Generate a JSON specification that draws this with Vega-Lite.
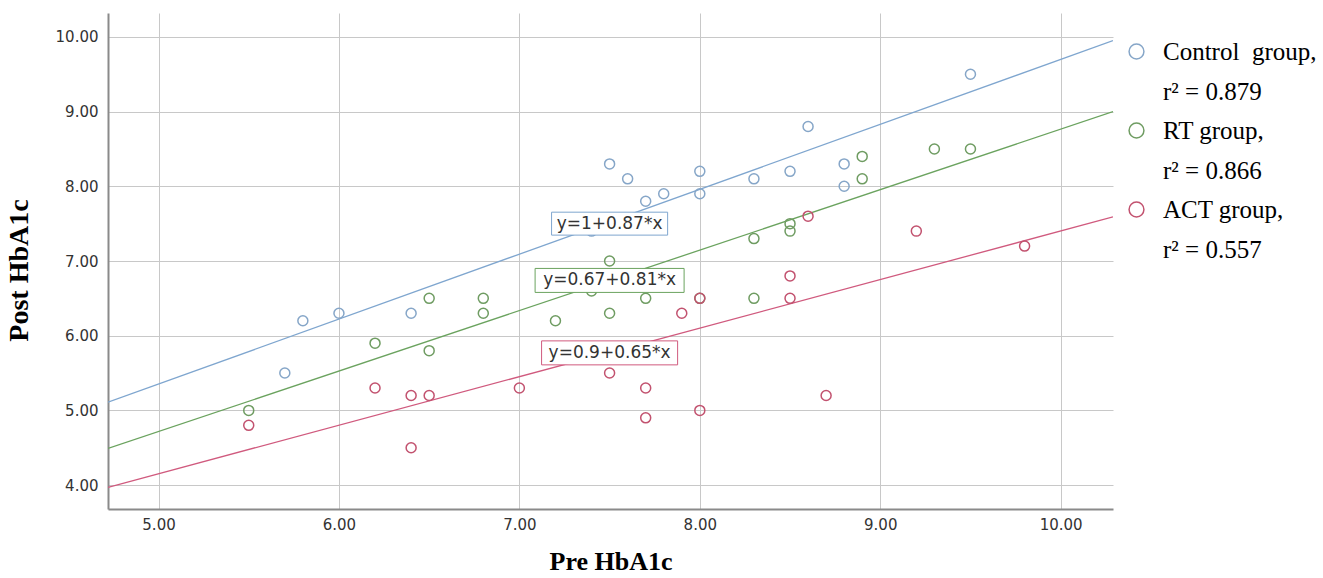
{
  "$schema": "https://vega.github.io/schema/vega-lite/v6.json",
  "width": 1005,
  "height": 496,
  "autosize": "none",
  "padding": {"left": 108, "top": 13, "right": 210, "bottom": 69},
  "background": "white",
  "config": {
    "view": {"stroke": null},
    "style": {"guide-label": {"lineHeight": 40}},
    "axis": {
      "grid": true,
      "gridColor": "#c8c8c8",
      "gridWidth": 1,
      "domainColor": "#8a8a8a",
      "domainWidth": 2,
      "ticks": false,
      "labelFont": "DejaVu Sans",
      "labelFontSize": 15,
      "labelColor": "#333333",
      "titleFont": "Liberation Serif",
      "titleFontWeight": "bold",
      "titleColor": "#000000"
    }
  },
  "datasets": {
    "pts": [
      {"group": "Control group", "pre": 5.7, "post": 5.5},
      {"group": "Control group", "pre": 5.8, "post": 6.2},
      {"group": "Control group", "pre": 6.0, "post": 6.3},
      {"group": "Control group", "pre": 6.4, "post": 6.3},
      {"group": "Control group", "pre": 7.4, "post": 7.4},
      {"group": "Control group", "pre": 7.5, "post": 8.3},
      {"group": "Control group", "pre": 7.6, "post": 8.1},
      {"group": "Control group", "pre": 7.7, "post": 7.8},
      {"group": "Control group", "pre": 7.8, "post": 7.9},
      {"group": "Control group", "pre": 8.0, "post": 8.2},
      {"group": "Control group", "pre": 8.0, "post": 7.9},
      {"group": "Control group", "pre": 8.3, "post": 8.1},
      {"group": "Control group", "pre": 8.5, "post": 8.2},
      {"group": "Control group", "pre": 8.6, "post": 8.8},
      {"group": "Control group", "pre": 8.8, "post": 8.3},
      {"group": "Control group", "pre": 8.8, "post": 8.0},
      {"group": "Control group", "pre": 9.5, "post": 9.5},
      {"group": "RT group", "pre": 5.5, "post": 5.0},
      {"group": "RT group", "pre": 6.2, "post": 5.9},
      {"group": "RT group", "pre": 6.5, "post": 6.5},
      {"group": "RT group", "pre": 6.5, "post": 5.8},
      {"group": "RT group", "pre": 6.8, "post": 6.5},
      {"group": "RT group", "pre": 6.8, "post": 6.3},
      {"group": "RT group", "pre": 7.2, "post": 6.2},
      {"group": "RT group", "pre": 7.4, "post": 6.6},
      {"group": "RT group", "pre": 7.5, "post": 7.0},
      {"group": "RT group", "pre": 7.5, "post": 6.3},
      {"group": "RT group", "pre": 7.7, "post": 6.5},
      {"group": "RT group", "pre": 8.0, "post": 6.5},
      {"group": "RT group", "pre": 8.3, "post": 6.5},
      {"group": "RT group", "pre": 8.3, "post": 7.3},
      {"group": "RT group", "pre": 8.5, "post": 7.5},
      {"group": "RT group", "pre": 8.5, "post": 7.4},
      {"group": "RT group", "pre": 8.9, "post": 8.4},
      {"group": "RT group", "pre": 8.9, "post": 8.1},
      {"group": "RT group", "pre": 9.3, "post": 8.5},
      {"group": "RT group", "pre": 9.5, "post": 8.5},
      {"group": "ACT group", "pre": 5.5, "post": 4.8},
      {"group": "ACT group", "pre": 6.2, "post": 5.3},
      {"group": "ACT group", "pre": 6.4, "post": 5.2},
      {"group": "ACT group", "pre": 6.5, "post": 5.2},
      {"group": "ACT group", "pre": 6.4, "post": 4.5},
      {"group": "ACT group", "pre": 7.0, "post": 5.3},
      {"group": "ACT group", "pre": 7.5, "post": 5.5},
      {"group": "ACT group", "pre": 7.7, "post": 5.3},
      {"group": "ACT group", "pre": 7.7, "post": 4.9},
      {"group": "ACT group", "pre": 7.9, "post": 6.3},
      {"group": "ACT group", "pre": 8.0, "post": 6.5},
      {"group": "ACT group", "pre": 8.0, "post": 5.0},
      {"group": "ACT group", "pre": 8.5, "post": 6.8},
      {"group": "ACT group", "pre": 8.5, "post": 6.5},
      {"group": "ACT group", "pre": 8.6, "post": 7.6},
      {"group": "ACT group", "pre": 8.7, "post": 5.2},
      {"group": "ACT group", "pre": 9.2, "post": 7.4},
      {"group": "ACT group", "pre": 9.8, "post": 7.2}
    ],
    "fits": [
      {"group": "Control group", "pre": 4.72, "post": 5.11},
      {"group": "Control group", "pre": 10.29, "post": 9.95},
      {"group": "RT group", "pre": 4.72, "post": 4.49},
      {"group": "RT group", "pre": 10.29, "post": 9.0},
      {"group": "ACT group", "pre": 4.72, "post": 3.97},
      {"group": "ACT group", "pre": 10.29, "post": 7.59}
    ],
    "eqs": [
      {"group": "Control group", "label": "y=1+0.87*x", "pre": 7.5, "post": 7.5},
      {"group": "RT group", "label": "y=0.67+0.81*x", "pre": 7.5, "post": 6.74},
      {"group": "ACT group", "label": "y=0.9+0.65*x", "pre": 7.5, "post": 5.77}
    ]
  },
  "layer": [
    {
      "data": {"name": "fits"},
      "mark": {"type": "line", "strokeWidth": 1.3, "clip": true},
      "encoding": {
        "x": {
          "field": "pre", "type": "quantitative",
          "scale": {"domain": [4.72, 10.29], "nice": false, "zero": false},
          "axis": {"values": [5, 6, 7, 8, 9, 10], "format": ".2f", "labelPadding": 8, "title": "Pre HbA1c", "titleFontSize": 26, "titlePadding": 16}
        },
        "y": {
          "field": "post", "type": "quantitative",
          "scale": {"domain": [3.68, 10.32], "nice": false, "zero": false},
          "axis": {"values": [4, 5, 6, 7, 8, 9, 10], "format": ".2f", "labelPadding": 10, "title": "Post HbA1c", "titleFontSize": 28, "titlePadding": 22, "titleY": 257}
        },
        "stroke": {
          "field": "group", "type": "nominal",
          "scale": {"range": ["#d05a7e", "#7fa6cf", "#6ba35f"]},
          "legend": null
        },
        "detail": {"field": "group"}
      }
    },
    {
      "data": {"name": "pts"},
      "mark": {"type": "point", "filled": false, "size": 100, "strokeWidth": 1.5, "opacity": 1},
      "encoding": {
        "x": {"field": "pre", "type": "quantitative"},
        "y": {"field": "post", "type": "quantitative"},
        "color": {
          "field": "group", "type": "nominal",
          "scale": {"domain": ["Control group", "RT group", "ACT group"], "range": ["#86a6c8", "#6f9c62", "#c2526f"]},
          "legend": {
            "orient": "none",
            "legendX": 1016,
            "legendY": 26,
            "title": null,
            "padding": 0,
            "symbolType": "circle",
            "symbolSize": 220,
            "symbolStrokeWidth": 1.5,
            "labelFont": "Liberation Serif",
            "labelFontSize": 25,
            "labelColor": "#000000",
            "labelOffset": 14,
            "labelLimit": 0,
            "labelBaseline": "middle",
            "rowPadding": 13,
            "labelExpr": "datum.label == 'Control group' ? ['Control\u00a0 group,', 'r² = 0.879'] : datum.label == 'RT group' ? ['RT group,', 'r² = 0.866'] : ['ACT group,', 'r² = 0.557']"
          }
        }
      }
    },
    {
      "data": {"name": "eqs"},
      "mark": {"type": "point", "filled": true, "fill": "white", "strokeWidth": 1, "opacity": 1, "size": 22201},
      "encoding": {
        "x": {"field": "pre", "type": "quantitative"},
        "y": {"field": "post", "type": "quantitative"},
        "stroke": {"field": "group", "type": "nominal", "legend": null},
        "shape": {
          "field": "group", "type": "nominal",
          "scale": {"range": ["M-0.913,-0.161H0.913V0.161H-0.913Z", "M-0.779,-0.154H0.779V0.154H-0.779Z", "M-1,-0.161H1V0.161H-1Z"]},
          "legend": null
        }
      }
    },
    {
      "data": {"name": "eqs"},
      "mark": {"type": "text", "font": "DejaVu Sans", "fontSize": 17, "color": "#333333", "align": "center", "baseline": "middle"},
      "encoding": {
        "x": {"field": "pre", "type": "quantitative"},
        "y": {"field": "post", "type": "quantitative"},
        "text": {"field": "label"}
      }
    }
  ]
}
